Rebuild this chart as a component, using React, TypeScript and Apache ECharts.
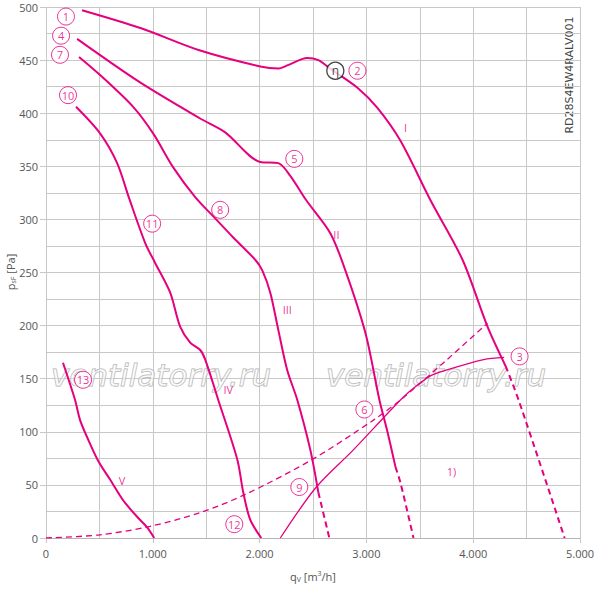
import React, { useEffect, useRef } from 'react';
import * as echarts from 'echarts';

const PINK = '#e6007e';
const GRID = '#c8c8c8';
const TEXT = '#555555';

const xTickValues = [0, 1000, 2000, 3000, 4000, 5000];
const yTickValues = [0, 50, 100, 150, 200, 250, 300, 350, 400, 450, 500];

// Curve I (1 -> 2)
const curve1Solid = [
  [337, 497], [891, 480], [1444, 459], [2006, 444], [2175, 442], [2259, 445],
  [2447, 452], [2550, 450], [2662, 442], [2916, 424], [3103, 405], [3319, 374],
  [3600, 318], [3900, 262], [4134, 199], [4303, 162],
];
const curve1Dashed = [[4303, 162], [4425, 130], [4856, 0]];

// Curve II (4 -> 5)
const curve2Solid = [
  [291, 470], [881, 429], [1444, 395], [1678, 382], [2006, 354], [2175, 353],
  [2287, 341], [2437, 318], [2662, 287], [2803, 252], [2991, 193], [3122, 130],
  [3197, 100], [3272, 67],
];
const curve2Dashed = [[3272, 67], [3319, 52], [3441, 0]];

// Curve III (7 -> 8)
const curve3Solid = [
  [309, 453], [506, 436], [816, 406], [1003, 381], [1191, 349], [1397, 321],
  [1584, 301], [1753, 283], [1959, 262], [2025, 252], [2100, 231], [2175, 196],
  [2259, 158], [2353, 130], [2475, 83], [2550, 43],
];
const curve3Dashed = [[2550, 43], [2653, 0]];

// Curve IV (10 -> 11)
const curve4 = [
  [281, 406], [506, 381], [666, 353], [778, 320], [928, 278], [1022, 259],
  [1163, 231], [1256, 199], [1350, 184], [1444, 177], [1491, 168], [1613, 130],
  [1791, 74], [1847, 43], [1913, 17], [2016, 0],
];

// Curve V (13)
const curve5 = [
  [159, 165], [272, 130], [319, 111], [398, 92], [492, 72], [600, 55],
  [680, 42], [741, 33], [853, 20], [947, 10], [1013, 0],
];

// System curve 1) dashed
const systemCurve = [
  [0, 0], [506, 3], [975, 11], [1444, 24], [1866, 41], [2494, 74],
  [3066, 111], [3319, 130], [3722, 165], [4097, 199], [4134, 202],
];

// Thin curve 9 -> 6 -> 3
const thinCurve = [
  [2194, 0], [2531, 48], [2878, 83], [3319, 130], [3478, 144], [3628, 154],
  [3881, 162], [4097, 168], [4290, 170],
];

const circleLabels = [
  [187, 491, '1'], [141, 473, '4'], [131, 455, '7'], [206, 417, '10'],
  [2916, 440, '2'], [2325, 357, '5'], [1631, 309, '8'], [994, 296, '11'],
  [347, 149, '13'], [4434, 171, '3'], [2981, 121, '6'], [2372, 48, '9'],
  [1763, 13, '12'],
];
const etaLabel = [[2709, 440, 'η']];

const romanLabels = [
  [3366, 387, 'I'], [2719, 286, 'II'], [2259, 215, 'III'], [1706, 140, 'IV'],
  [713, 54, 'V'], [3797, 63, '1)'],
];

function lineSeries(data: number[][], dashed: boolean, width: number) {
  return {
    type: 'line',
    data,
    smooth: 0.3,
    symbol: 'none',
    showSymbol: false,
    silent: true,
    z: 3,
    lineStyle: { color: PINK, width, type: dashed ? [6, 4] : 'solid' },
  };
}

export default function App() {
  const ref = useRef<HTMLDivElement>(null);
  useEffect(() => {
    document.body.style.margin = '0';
    const chart = echarts.init(ref.current!, null, { renderer: 'svg' });
    const fontFamily = 'Open Sans';
    chart.setOption({
      animation: false,
      backgroundColor: '#ffffff',
      grid: { left: 46, right: 20, top: 7, bottom: 51, containLabel: false, outerBoundsMode: 'none' },
      xAxis: {
        type: 'value',
        min: xTickValues[0],
        max: xTickValues[xTickValues.length - 1],
        interval: 1000,
        name: 'q{s|V} [m{u|3}/h]',
        nameLocation: 'middle',
        nameGap: 32,
        nameTextStyle: {
          color: TEXT,
          fontSize: 11,
          fontFamily,
          rich: {
            s: { fontSize: 7, color: TEXT, fontFamily, padding: [6, 0, 0, 0] },
            u: { fontSize: 7, color: TEXT, fontFamily, padding: [0, 0, 6, 0] },
          },
        },
        axisLine: { show: true, lineStyle: { color: '#b5b5b5', width: 1 } },
        axisTick: { show: true, length: 5, lineStyle: { color: GRID } },
        axisLabel: {
          color: TEXT,
          fontSize: 11,
          fontFamily,
          margin: 10,
          formatter: (v: number) => (v === 0 ? '0' : `${v / 1000}.000`),
        },
        splitLine: { show: true, lineStyle: { color: GRID, width: 1 } },
        minorTick: { show: false, splitNumber: 2 },
        minorSplitLine: { show: true, lineStyle: { color: GRID, width: 1 } },
      },
      yAxis: {
        type: 'value',
        min: yTickValues[0],
        max: yTickValues[yTickValues.length - 1],
        interval: 50,
        axisLine: { show: false },
        axisTick: { show: true, length: 6, lineStyle: { color: GRID } },
        axisLabel: { color: TEXT, fontSize: 11, fontFamily, margin: 8 },
        splitLine: { show: true, lineStyle: { color: GRID, width: 1 } },
        minorTick: { show: false, splitNumber: 2 },
        minorSplitLine: { show: true, lineStyle: { color: GRID, width: 1 } },
      },
      graphic: [
        {
          type: 'text',
          x: 10,
          y: 272,
          rotation: Math.PI / 2,
          silent: true,
          style: {
            text: 'p{s|sF} [Pa]',
            fill: TEXT,
            fontSize: 11,
            fontFamily,
            align: 'center',
            verticalAlign: 'middle',
            rich: {
              s: { fontSize: 7, fill: TEXT, fontFamily, padding: [6, 0, 0, 0] },
            },
          },
        },
        {
          type: 'text',
          x: 161,
          y: 375,
          z: 1,
          silent: true,
          style: {
            text: 'ventilatorry.ru',
            font: 'italic 31px "DejaVu Sans"',
            fill: 'rgba(255,255,255,0.5)',
            stroke: '#b0b0b0',
            lineWidth: 1,
            align: 'center',
            verticalAlign: 'middle',
          },
        },
        {
          type: 'text',
          x: 436,
          y: 375,
          z: 1,
          silent: true,
          style: {
            text: 'ventilatorry.ru',
            font: 'italic 31px "DejaVu Sans"',
            fill: 'rgba(255,255,255,0.5)',
            stroke: '#b0b0b0',
            lineWidth: 1,
            align: 'center',
            verticalAlign: 'middle',
          },
        },
        {
          type: 'text',
          x: 569,
          y: 75,
          rotation: Math.PI / 2,
          silent: true,
          style: {
            text: 'RD28S4EW4RALV001',
            font: '11px "DejaVu Sans"',
            fill: '#444444',
            align: 'center',
            verticalAlign: 'middle',
          },
        },
      ],
      series: [
        lineSeries(systemCurve, true, 1.3),
        lineSeries(thinCurve, false, 1.3),
        lineSeries(curve1Solid, false, 2),
        lineSeries(curve1Dashed, true, 2),
        lineSeries(curve2Solid, false, 2),
        lineSeries(curve2Dashed, true, 2),
        lineSeries(curve3Solid, false, 2),
        lineSeries(curve3Dashed, true, 2),
        lineSeries(curve4, false, 2),
        lineSeries(curve5, false, 2),
        {
          type: 'scatter',
          data: circleLabels,
          symbol: 'circle',
          symbolSize: 17,
          silent: true,
          z: 5,
          itemStyle: { color: '#ffffff', borderColor: PINK, borderWidth: 1 },
          label: {
            show: true,
            position: 'inside',
            color: PINK,
            fontSize: 11,
            fontFamily,
            formatter: (p: any) => p.value[2],
          },
        },
        {
          type: 'scatter',
          data: etaLabel,
          symbol: 'circle',
          symbolSize: 17,
          silent: true,
          z: 5,
          itemStyle: { color: '#ffffff', borderColor: '#111111', borderWidth: 1.3 },
          label: {
            show: true,
            position: 'inside',
            color: '#111111',
            fontSize: 12,
            fontFamily,
            formatter: (p: any) => p.value[2],
          },
        },
        {
          type: 'scatter',
          data: romanLabels,
          symbol: 'circle',
          symbolSize: 1,
          silent: true,
          z: 5,
          itemStyle: { color: 'transparent' },
          label: {
            show: true,
            position: 'inside',
            color: PINK,
            fontSize: 11,
            fontFamily,
            formatter: (p: any) => p.value[2],
          },
        },
      ],
    });
    return () => chart.dispose();
  }, []);
  return <div ref={ref} style={{ width: 600, height: 589 }} />;
}
